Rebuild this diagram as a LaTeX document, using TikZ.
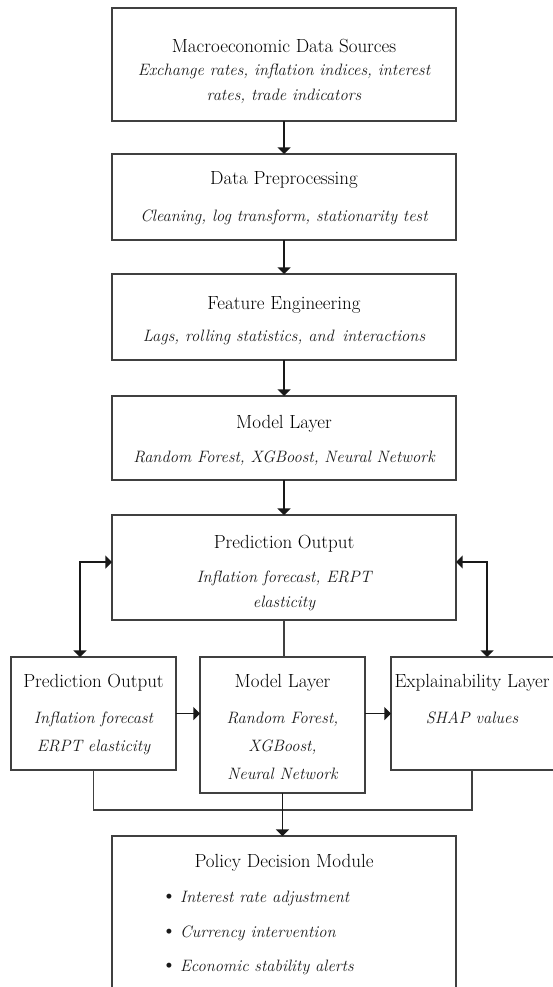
\documentclass[tikz,border=0pt]{standalone}
\usepackage{tikz}
\usetikzlibrary{arrows}

\begin{document}
\begin{tikzpicture}[x=1pt, y=-1pt, >=triangle 90,
    box/.style={rectangle, draw=black!75, line width=1.3pt, inner sep=0pt, outer sep=0pt},
    ttl/.style={inner sep=0pt, anchor=base, text=black, font=\fontsize{19}{22}\selectfont},
    txt/.style={inner sep=0pt, anchor=base, text=black!90, font=\fontsize{16.5}{20}\selectfont\itshape},
    arr/.style={->, line width=1.3pt, draw=black!90},
    lnk/.style={line width=1.2pt, draw=black!75}]
    \useasboundingbox (0,0) rectangle (552,987);

    % main column
    \node[box, minimum width=344pt, minimum height=113pt] (src) at (284,64.5) {};
    \node[ttl] (srcT) at (284,53) {Macroeconomic Data Sources};
    \node[txt] (srcA) at (284,76) {Exchange rates, inflation indices, interest};
    \node[txt] (srcB) at (284,101) {rates, trade indicators};

    \node[box, minimum width=344pt, minimum height=86pt] (prep) at (284,197) {};
    \node[ttl] (prepT) at (284,185) {Data Preprocessing};
    \node[txt] (prepA) at (284,222) {Cleaning, log transform, stationarity test};

    \node[box, minimum width=344pt, minimum height=86pt] (feat) at (284,317) {};
    \node[ttl] (featT) at (284,309) {Feature Engineering};
    \node[txt] (featA) at (284,341) {Lags, rolling statistics, and\, interactions};

    \node[box, minimum width=344pt, minimum height=84pt] (mdl) at (284,438) {};
    \node[ttl] (mdlT) at (284,428) {Model Layer};
    \node[txt] (mdlA) at (284,462) {Random Forest, XGBoost, Neural Network};

    \node[box, minimum width=344pt, minimum height=105pt] (pred) at (284,567.5) {};
    \node[ttl] (predT) at (284,548) {Prediction Output};
    \node[txt] (predA) at (284,582) {Inflation forecast, ERPT};
    \node[txt] (predB) at (284,607) {elasticity};

    % lower row
    \node[box, minimum width=165pt, minimum height=113pt] (predL) at (93.5,713.5) {};
    \node[ttl] (predLT) at (93.5,687) {Prediction Output};
    \node[txt] (predLA) at (93.5,723) {Inflation forecast};
    \node[txt] (predLB) at (93.5,751) {ERPT elasticity};

    \node[box, minimum width=165pt, minimum height=136pt] (mdlM) at (282.5,725) {};
    \node[ttl] (mdlMT) at (282.5,687) {Model Layer};
    \node[txt] (mdlMA) at (282.5,723) {Random Forest,};
    \node[txt] (mdlMB) at (282.5,751) {XGBoost,};
    \node[txt] (mdlMC) at (282.5,779) {Neural Network};

    \node[box, minimum width=166pt, minimum height=113pt] (expl) at (474,713.5) {};
    \node[ttl] (explT) at (472,687) {Explainability Layer};
    \node[txt] (explA) at (472,723) {SHAP values};

    % policy
    \node[box, minimum width=344pt, minimum height=153pt] (pol) at (284,912.5) {};
    \node[ttl] (polT) at (284,867) {Policy Decision Module};
    \node[txt, anchor=base west] (polA) at (161,902) {{\upshape\fontsize{22}{22}\selectfont\textbullet}\hspace{3pt}Interest rate adjustment};
    \node[txt, anchor=base west] (polB) at (161,937) {{\upshape\fontsize{22}{22}\selectfont\textbullet}\hspace{3pt}Currency intervention};
    \node[txt, anchor=base west] (polC) at (161,971) {{\upshape\fontsize{22}{22}\selectfont\textbullet}\hspace{3pt}Economic stability alerts};

    % connectors
    \draw[arr] (src) -- (prep);
    \draw[arr] (prep) -- (feat);
    \draw[arr] (feat) -- (mdl);
    \draw[arr] (mdl) -- (pred);
    \draw[arr, <->] ([yshift=5.5pt]pred.west) -| ([xshift=-13.5pt]predL.north);
    \draw[arr, <->] ([yshift=5.5pt]pred.east) -| ([xshift=13pt]expl.north);
    \draw[lnk] (pred.south) -- (pred.south |- mdlM.north);
    \draw[arr] (predL.east) -- (predL.east -| mdlM.west);
    \draw[arr] (predL.east -| mdlM.east) -- (predL.east -| expl.west);
    \coordinate (jn) at (284,810);
    \draw[lnk] (predL.south) |- (jn) -| ([xshift=-2pt]expl.south);
    \draw[arr] (mdlM.south) -- (mdlM.south |- pol.north);
\end{tikzpicture}
\end{document}
